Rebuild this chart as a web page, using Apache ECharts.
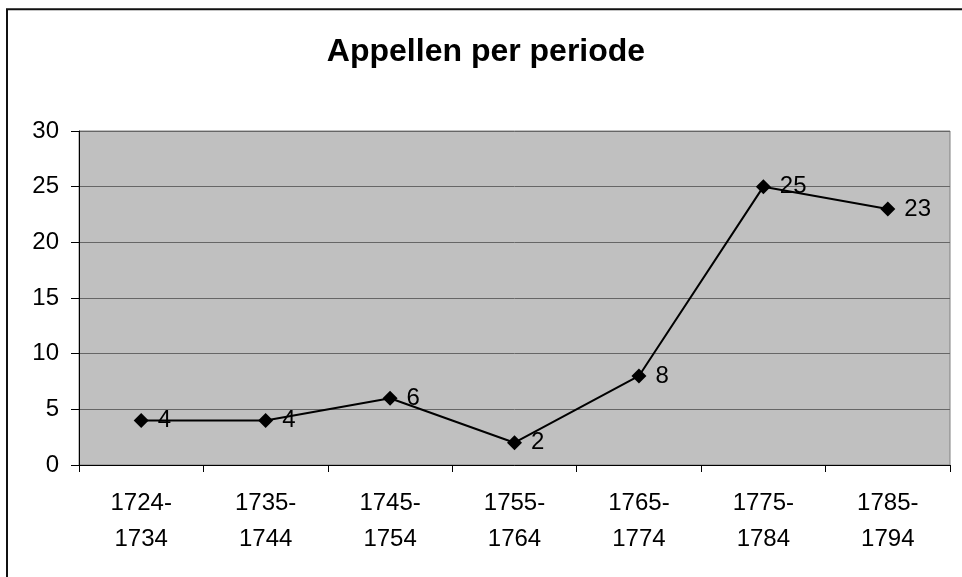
<!DOCTYPE html>
<html>
<head>
<meta charset="utf-8">
<script src="https://cdn.jsdelivr.net/npm/echarts@6/dist/echarts.min.js"></script>
<style>
html,body{margin:0;padding:0;background:#fff;}
#chart{width:962px;height:577px;}
</style>
</head>
<body>
<div id="chart"></div>
<script>
const titleText = "Appellen per periode";
const categories = ["1724-\n1734", "1735-\n1744", "1745-\n1754", "1755-\n1764", "1765-\n1774", "1775-\n1784", "1785-\n1794"];
const values = [4, 4, 6, 2, 8, 25, 23];
const yMin = 0, yMax = 30, yStep = 5;

const chart = echarts.init(document.getElementById('chart'));
const font = "'Liberation Sans', Arial, sans-serif";
chart.setOption({
  backgroundColor: '#ffffff',
  animation: false,
  title: {
    text: titleText,
    left: 481, top: 31, textAlign: 'center',
    textStyle: { fontFamily: font, fontSize: 32, fontWeight: 'bold', color: '#000' }
  },
  graphic: [{
    type: 'rect', silent: true, z: 100,
    shape: { x: 7, y: 9.3, width: 1100, height: 1000 },
    style: { fill: 'none', stroke: '#111', lineWidth: 2 }
  }],
  grid: {
    left: 79, right: 12, top: 131, bottom: 112,
    show: true, backgroundColor: '#C0C0C0', borderColor: '#808080', borderWidth: 1
  },
  xAxis: {
    type: 'category', data: categories, boundaryGap: true,
    axisLine: { show: true, lineStyle: { color: '#000', width: 1 } },
    axisTick: { show: true, length: 7, lineStyle: { color: '#000' }, alignWithLabel: false },
    axisLabel: { fontFamily: font, fontSize: 24, color: '#000', margin: 20, lineHeight: 36 },
    splitLine: { show: false }
  },
  yAxis: {
    type: 'value', min: yMin, max: yMax, interval: yStep,
    axisLine: { show: true, lineStyle: { color: '#000', width: 1 } },
    axisTick: { show: true, length: 8, lineStyle: { color: '#000' } },
    axisLabel: { fontFamily: font, fontSize: 24, color: '#000', margin: 20 },
    splitLine: { show: true, lineStyle: { color: '#666', width: 1 } }
  },
  series: [{
    type: 'line', data: values,
    symbol: 'diamond', symbolSize: 15,
    itemStyle: { color: '#000' },
    lineStyle: { color: '#000', width: 2 },
    label: { show: true, position: 'right', distance: 9, fontFamily: font, fontSize: 24, color: '#000' }
  }]
});
</script>
</body>
</html>
